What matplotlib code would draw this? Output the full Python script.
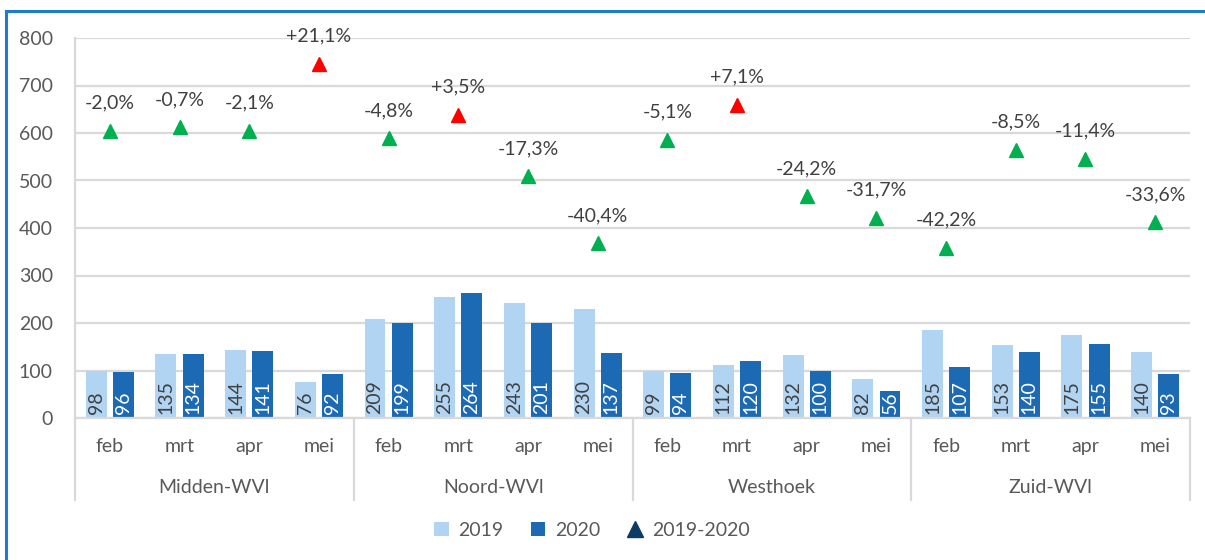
import matplotlib
matplotlib.use("Agg")
import matplotlib.pyplot as plt
from matplotlib.lines import Line2D
from matplotlib.patches import Patch

plt.rcParams['font.family'] = ['Lato', 'DejaVu Sans']

regions = ["Midden-WVl", "Noord-WVl", "Westhoek", "Zuid-WVl"]
months = ["feb", "mrt", "apr", "mei"]
v2019 = [98, 135, 144, 76, 209, 255, 243, 230, 99, 112, 132, 82, 185, 153, 175, 140]
v2020 = [96, 134, 141, 92, 199, 264, 201, 137, 94, 120, 100, 56, 107, 140, 155, 93]
change_labels = ["-2,0%", "-0,7%", "-2,1%", "+21,1%", "-4,8%", "+3,5%", "-17,3%", "-40,4%",
                 "-5,1%", "+7,1%", "-24,2%", "-31,7%", "-42,2%", "-8,5%", "-11,4%", "-33,6%"]
marker_y = [604, 612, 604, 745, 589, 638, 509, 368, 585, 660, 467, 421, 358, 564, 545, 412]
yticks = [0, 100, 200, 300, 400, 500, 600, 700, 800]

C19 = "#B0D4F2"
C20 = "#1C69B4"
GREEN = "#00B050"
RED = "#FF0000"
NAVY = "#0E3A66"
GRID = "#D9D9D9"
TXT = "#404040"

W, H = 1205, 560
fig = plt.figure(figsize=(W / 100, H / 100), dpi=100)
ax = fig.add_axes([75 / W, 1 - 418 / H, (1190 - 75) / W, 380 / H])

n = len(v2019)
xs = list(range(n))
bw = 0.30
off = 0.195
ax.bar([x - off for x in xs], v2019, width=bw, color=C19, zorder=3)
ax.bar([x + off for x in xs], v2020, width=bw, color=C20, zorder=3)

fs = 14
for x, a, b in zip(xs, v2019, v2020):
    ax.annotate(str(a), (x - off, 0), xytext=(0, 3), textcoords="offset points",
                rotation=90, ha="center", va="bottom", fontsize=fs, color=TXT, zorder=5)
    ax.annotate(str(b), (x + off, 0), xytext=(0, 3), textcoords="offset points",
                rotation=90, ha="center", va="bottom", fontsize=fs, color="white", zorder=5)

for x, y, lab in zip(xs, marker_y, change_labels):
    col = RED if lab.startswith("+") else GREEN
    ax.plot([x], [y], marker="^", markersize=10, color=col, linestyle="none", zorder=6, clip_on=False)
    ax.annotate(lab, (x, y), xytext=(0, 20), textcoords="offset points",
                ha="center", va="center", fontsize=fs, color=TXT, zorder=6, annotation_clip=False)

ax.set_xlim(-0.5, n - 0.5)
ax.set_ylim(0, 800)
ax.set_yticks(yticks)
ax.set_yticklabels([str(t) for t in yticks], fontsize=fs, color="#595959")
ax.tick_params(axis="y", length=0, pad=16)
ax.set_xticks([])
ax.grid(axis="y", color=GRID, linewidth=1.6, zorder=0)
for s in ["top", "right"]:
    ax.spines[s].set_visible(False)
ax.spines["left"].set_color(GRID)
ax.spines["left"].set_linewidth(1.6)
ax.spines["bottom"].set_color(GRID)
ax.spines["bottom"].set_linewidth(1.6)
ax.spines["bottom"].set_zorder(4)

trans = ax.get_xaxis_transform()
for x in xs:
    ax.text(x, -0.074, months[x % 4], transform=trans, ha="center", va="center",
            fontsize=fs, color="#595959")
for g, name in enumerate(regions):
    ax.text(g * 4 + 1.5, -0.184, name, transform=trans, ha="center", va="center",
            fontsize=fs, color="#595959")
for g in range(len(regions) + 1):
    ax.add_line(Line2D([g * 4 - 0.5, g * 4 - 0.5], [0, -0.216], transform=trans,
                       color=GRID, linewidth=1.6, clip_on=False))

handles = [Patch(facecolor=C19, edgecolor="none"), Patch(facecolor=C20, edgecolor="none"),
           Line2D([], [], marker="^", color=NAVY, linestyle="none", markersize=11)]
fig.legend(handles, ["2019", "2020", "2019-2020"], loc="center", ncol=3,
           bbox_to_anchor=(592 / W, 1 - 530 / H), frameon=False, fontsize=fs,
           handlelength=0.75, handleheight=0.75, columnspacing=1.4, handletextpad=0.5,
           labelcolor="#595959")

# outer frame (top and left)
fig.add_artist(Line2D([5.5 / W, 1.0], [1 - 11 / H, 1 - 11 / H], transform=fig.transFigure,
                      color="#1E7BD0", linewidth=2.2))
fig.add_artist(Line2D([5.5 / W, 5.5 / W], [0, 1 - 11 / H], transform=fig.transFigure,
                      color="#1E7BD0", linewidth=2.2))

fig.savefig("out.png", dpi=100, facecolor="white")
